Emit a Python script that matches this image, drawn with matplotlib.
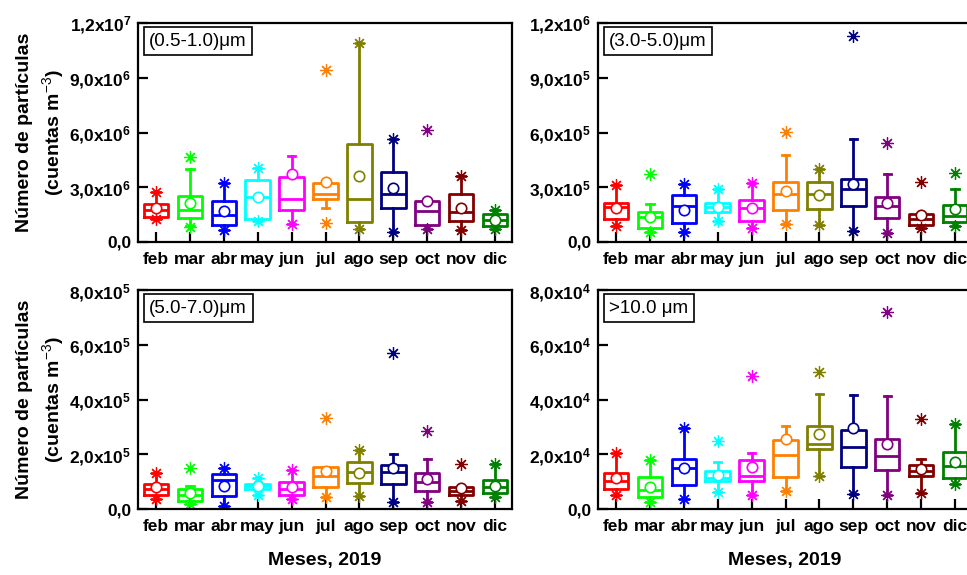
import numpy as np
import matplotlib.pyplot as plt

plt.rcParams['font.family'] = ['Liberation Sans', 'DejaVu Sans']
plt.rcParams['mathtext.fontset'] = 'custom'
plt.rcParams['mathtext.rm'] = 'Liberation Sans'
plt.rcParams['mathtext.bf'] = 'Liberation Sans:bold'

months = ['feb', 'mar', 'abr', 'may', 'jun', 'jul', 'ago', 'sep', 'oct', 'nov', 'dic']
colors = ['#FF0000', '#00FF00', '#0000FF', '#00FFFF', '#FF00FF', '#FF8000',
          '#808000', '#000080', '#800080', '#800000', '#008000']
nan = np.nan

# (0.5-1.0) um, x1e6
p1_q1 = [1.35, 1.31, 0.93, 1.25, 1.76, 2.35, 1.11, 1.85, 0.95, 1.13, 0.87]
p1_med = [1.76, 1.75, 1.47, 2.44, 2.38, 2.62, 2.35, 2.62, 1.71, 1.67, 1.22]
p1_q3 = [2.07, 2.53, 2.25, 3.38, 3.58, 3.25, 5.35, 3.84, 2.22, 2.65, 1.53]
p1_mean = [1.84, 2.11, 1.71, 2.47, 3.70, 3.29, 3.62, 2.98, 2.25, 1.84, 1.20]
p1_wlo = [1.25, 0.89, 0.67, 1.16, 0.98, 1.89, 0.71, 0.56, 0.71, 0.65, 0.71]
p1_whi = [2.75, 3.98, 3.25, 4.07, 4.71, 3.30, 10.89, 5.65, 2.22, 3.62, 1.75]
p1_slo = [1.25, 0.84, 0.67, 1.16, 0.98, 1.02, 0.71, 0.56, 0.71, 0.65, 0.71]
p1_shi = [2.75, 4.67, 3.25, 4.07, nan, 9.40, 10.89, 5.65, 6.13, 3.62, 1.75]

# (3.0-5.0) um, x1e5
p2_q1 = [1.25, 0.75, 1.02, 1.65, 1.16, 1.75, 1.80, 1.95, 1.29, 0.95, 1.11]
p2_med = [1.93, 1.35, 1.98, 1.93, 1.84, 2.65, 2.65, 2.89, 1.95, 1.25, 1.44]
p2_q3 = [2.16, 1.67, 2.56, 2.16, 2.29, 3.29, 3.29, 3.47, 2.47, 1.56, 2.02]
p2_mean = [1.84, 1.35, 1.75, 1.93, 1.84, 2.80, 2.56, 3.16, 2.13, 1.47, 1.80]
p2_wlo = [0.89, 0.56, 0.56, 1.16, 0.75, 0.98, 0.95, 0.58, 0.47, 0.75, 0.85]
p2_whi = [3.11, 2.09, 3.16, 2.89, 3.25, 4.76, 3.98, 5.65, 3.75, 1.56, 2.93]
p2_slo = [0.89, 0.56, 0.56, 1.16, 0.75, 0.98, 0.95, 0.58, 0.47, 0.75, 0.85]
p2_shi = [3.11, 3.71, 3.16, 2.89, 3.25, 6.02, 3.98, 11.29, 5.44, 3.29, 3.80]

# (5.0-7.0) um, x1e5
p3_q1 = [0.51, 0.30, 0.48, 0.73, 0.52, 0.79, 0.95, 0.93, 0.67, 0.51, 0.60]
p3_med = [0.73, 0.51, 1.05, 0.85, 0.73, 1.19, 1.36, 1.36, 0.97, 0.67, 0.80]
p3_q3 = [0.91, 0.73, 1.27, 0.93, 0.99, 1.55, 1.73, 1.60, 1.31, 0.79, 1.05]
p3_mean = [0.79, 0.58, 0.85, 0.85, 0.82, 1.38, 1.33, 1.49, 1.09, 0.76, 0.85]
p3_wlo = [0.36, 0.18, 0.12, 0.51, 0.36, 0.45, 0.48, 0.24, 0.24, 0.30, 0.45]
p3_whi = [1.33, 0.85, 1.48, 1.15, 1.42, 1.55, 2.16, 2.00, 1.84, 0.79, 1.65]
p3_slo = [0.36, 0.18, 0.12, 0.51, 0.36, 0.45, 0.48, 0.24, 0.24, 0.30, 0.45]
p3_shi = [1.33, 1.49, 1.48, 1.15, 1.42, 3.31, 2.16, 5.70, 2.85, 1.64, 1.65]

# >10.0 um, x1e4
p4_q1 = [0.73, 0.45, 0.87, 1.01, 1.01, 1.18, 2.18, 1.55, 1.43, 1.19, 1.12]
p4_med = [1.03, 0.70, 1.48, 1.15, 1.19, 1.96, 2.39, 2.28, 1.94, 1.39, 1.58]
p4_q3 = [1.33, 1.18, 1.84, 1.39, 1.78, 2.51, 3.05, 2.88, 2.57, 1.61, 2.10]
p4_mean = [1.15, 0.82, 1.49, 1.24, 1.52, 2.57, 2.73, 2.97, 2.36, 1.45, 1.70]
p4_wlo = [0.51, 0.27, 0.36, 0.63, 0.52, 0.67, 1.19, 0.55, 0.52, 0.58, 0.91]
p4_whi = [2.06, 1.79, 2.97, 1.73, 2.04, 3.05, 4.21, 4.18, 4.12, 1.84, 3.09]
p4_slo = [0.51, 0.27, 0.36, 0.63, 0.52, 0.67, 1.19, 0.55, 0.52, 0.58, 0.91]
p4_shi = [2.06, 1.79, 2.97, 2.48, 4.85, nan, 4.99, nan, 7.18, 3.30, 3.09]

panels = [
    dict(data=(p1_q1, p1_med, p1_q3, p1_mean, p1_wlo, p1_whi, p1_slo, p1_shi), scale=1e6,
         label='(0.5-1.0)μm', ylim=1.2e7,
         yticks=[0, 3e6, 6e6, 9e6, 1.2e7],
         ylabels=['0,0', r'$\mathbf{3{,}0x10^{6}}$', r'$\mathbf{6{,}0x10^{6}}$',
                  r'$\mathbf{9{,}0x10^{6}}$', r'$\mathbf{1{,}2x10^{7}}$']),
    dict(data=(p2_q1, p2_med, p2_q3, p2_mean, p2_wlo, p2_whi, p2_slo, p2_shi), scale=1e5,
         label='(3.0-5.0)μm', ylim=1.2e6,
         yticks=[0, 3e5, 6e5, 9e5, 1.2e6],
         ylabels=['0,0', r'$\mathbf{3{,}0x10^{5}}$', r'$\mathbf{6{,}0x10^{5}}$',
                  r'$\mathbf{9{,}0x10^{5}}$', r'$\mathbf{1{,}2x10^{6}}$']),
    dict(data=(p3_q1, p3_med, p3_q3, p3_mean, p3_wlo, p3_whi, p3_slo, p3_shi), scale=1e5,
         label='(5.0-7.0)μm', ylim=8e5,
         yticks=[0, 2e5, 4e5, 6e5, 8e5],
         ylabels=['0,0', r'$\mathbf{2{,}0x10^{5}}$', r'$\mathbf{4{,}0x10^{5}}$',
                  r'$\mathbf{6{,}0x10^{5}}$', r'$\mathbf{8{,}0x10^{5}}$']),
    dict(data=(p4_q1, p4_med, p4_q3, p4_mean, p4_wlo, p4_whi, p4_slo, p4_shi), scale=1e4,
         label='>10.0 μm', ylim=8e4,
         yticks=[0, 2e4, 4e4, 6e4, 8e4],
         ylabels=['0,0', r'$\mathbf{2{,}0x10^{4}}$', r'$\mathbf{4{,}0x10^{4}}$',
                  r'$\mathbf{6{,}0x10^{4}}$', r'$\mathbf{8{,}0x10^{4}}$']),
]

W, H = 967, 575
fig = plt.figure(figsize=(W / 100, H / 100), dpi=100)
boxes_px = [(138, 23), (598, 23), (138, 290), (598, 290)]
aw, ah = 374, 219

for k, p in enumerate(panels):
    x0, y0 = boxes_px[k]
    ax = fig.add_axes([x0 / W, (H - y0 - ah) / H, aw / W, ah / H])
    q1, med, q3, mean, wlo, whi, slo, shi = p['data']
    s = p['scale']
    stats = []
    for i in range(11):
        fl = [v * s for v in (slo[i], shi[i]) if np.isfinite(v)]
        stats.append(dict(q1=q1[i] * s, med=med[i] * s, q3=q3[i] * s, mean=mean[i] * s,
                          whislo=wlo[i] * s, whishi=whi[i] * s, fliers=fl))
    res = ax.bxp(stats, positions=np.arange(1, 12), widths=0.72, capwidths=0.22,
                 showmeans=True, showfliers=True, manage_ticks=False,
                 boxprops=dict(lw=2), whiskerprops=dict(lw=2), capprops=dict(lw=2),
                 medianprops=dict(lw=2),
                 meanprops=dict(marker='o', markerfacecolor='white', markersize=7.5,
                                markeredgewidth=1.2),
                 flierprops=dict(marker=(8, 2, 0), markersize=9, markeredgewidth=0.9,
                                 linestyle='none'))
    for i, c in enumerate(colors):
        res['boxes'][i].set_color(c)
        res['medians'][i].set_color(c)
        for j in (2 * i, 2 * i + 1):
            res['whiskers'][j].set_color(c)
            res['caps'][j].set_color(c)
        res['means'][i].set_markeredgecolor(c)
        res['fliers'][i].set_markeredgecolor(c)
        res['fliers'][i].set_markerfacecolor(c)

    ax.set_xlim(0.47, 11.5)
    ax.set_ylim(0, p['ylim'])
    ax.set_xticks(np.arange(1, 12))
    ax.set_xticklabels(months, fontsize=12.5, fontweight='bold')
    ax.set_yticks(p['yticks'])
    ax.set_yticklabels(p['ylabels'], fontsize=12.5, fontweight='bold')
    ax.tick_params(axis='both', direction='in', length=7.5, width=1.6)
    ax.tick_params(axis='x', pad=7)
    ax.tick_params(axis='y', pad=5)
    for sp in ax.spines.values():
        sp.set_linewidth(1.6)

    ax.text(0.03, 0.955, p['label'], transform=ax.transAxes, ha='left', va='top',
            fontsize=13.5,
            bbox=dict(boxstyle='square,pad=0.3', fc='white', ec='black', lw=1.2))

    if k % 2 == 0:
        ax.set_ylabel('Número de partículas\n(cuentas m$^{-3}$)', fontsize=14,
                      fontweight='bold', linespacing=1.35)
        ax.yaxis.set_label_coords(-0.19, 0.5)
    if k >= 2:
        ax.set_xlabel('Meses, 2019', fontsize=14, fontweight='bold', labelpad=13)

fig.savefig('out.png', dpi=100)
